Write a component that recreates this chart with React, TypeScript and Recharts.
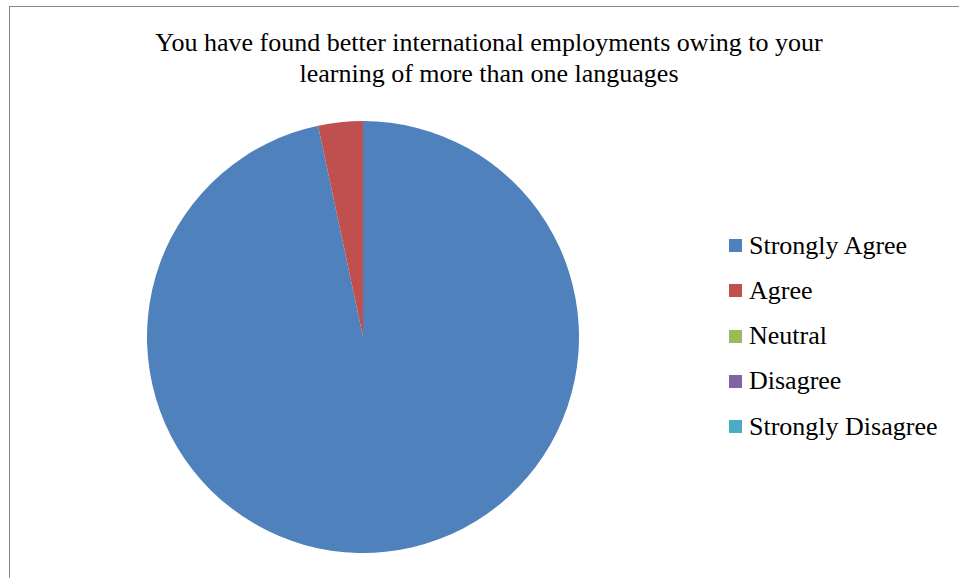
import { PieChart, Pie, Cell, Legend } from "recharts";

const categories = ["Strongly Agree", "Agree", "Neutral", "Disagree", "Strongly Disagree"];
const values = [29, 1, 0, 0, 0];
const colors = ["#4F81BD", "#C0504D", "#9BBB59", "#8064A2", "#4BACC6"];

const title = [
  "You have found better international employments owing to your",
  "learning of more than one languages",
];

const data = categories.map((name, i) => ({ name, value: values[i] }));

const FONT = "'Times New Roman', Tinos, 'Liberation Serif', 'DejaVu Serif', serif";

function LegendList({ payload }: any) {
  const items = [...(payload || [])].sort(
    (a: any, b: any) => categories.indexOf(a.value) - categories.indexOf(b.value)
  );
  return (
    <div style={{ fontFamily: FONT, fontSize: 26, color: "#000" }}>
      {items.map((p: any) => (
        <div
          key={p.value}
          style={{ height: 45.25, display: "flex", alignItems: "center", whiteSpace: "nowrap" }}
        >
          <span
            style={{
              width: 13,
              height: 13,
              background: p.color,
              display: "inline-block",
              marginRight: 7,
              flexShrink: 0,
            }}
          />
          <span>{p.value}</span>
        </div>
      ))}
    </div>
  );
}

export default function App() {
  return (
    <div style={{ position: "absolute", left: 0, top: 0, width: 959, height: 578, background: "#fff", overflow: "hidden" }}>
      <div
        style={{
          position: "absolute",
          left: 9,
          top: 6,
          width: 1000,
          height: 700,
          border: "1.5px solid #888",
          boxSizing: "border-box",
        }}
      />
      <div
        style={{
          position: "absolute",
          left: 0,
          top: 27,
          width: 978,
          textAlign: "center",
          fontFamily: FONT,
          fontSize: 26,
          lineHeight: "31px",
          color: "#000",
        }}
      >
        {title.map((t) => (
          <div key={t}>{t}</div>
        ))}
      </div>
      <div style={{ position: "absolute", left: 0, top: 0 }}>
        <PieChart width={959} height={578} margin={{ top: 0, right: 0, bottom: 0, left: 0 }}>
          <Pie
            data={data}
            dataKey="value"
            nameKey="name"
            cx={363}
            cy={337}
            outerRadius={216}
            startAngle={90}
            endAngle={-270}
            stroke="none"
            isAnimationActive={false}
          >
            {data.map((d, i) => (
              <Cell key={d.name} fill={colors[i]} />
            ))}
          </Pie>
          <Legend
            layout="vertical"
            align="right"
            verticalAlign="top"
            content={<LegendList />}
            wrapperStyle={{ left: 729, top: 223, width: 240 }}
          />
        </PieChart>
      </div>
    </div>
  );
}
